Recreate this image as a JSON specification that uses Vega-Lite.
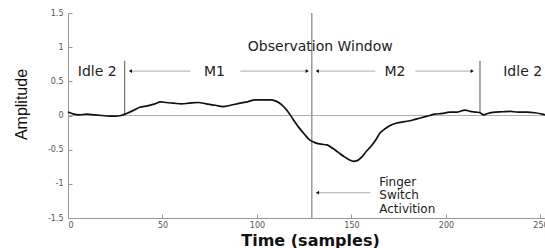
{
  "$schema": "https://vega.github.io/schema/vega-lite/v6.json",
  "width": 477,
  "height": 205,
  "autosize": "none",
  "padding": {"left": 68, "top": 13, "right": 0, "bottom": 30},
  "background": "white",
  "config": {
    "view": {"stroke": null},
    "axis": {
      "grid": false,
      "domainColor": "#999999",
      "tickColor": "#999999",
      "tickSize": -4,
      "labelFont": "DejaVu Sans",
      "labelFontSize": 8,
      "labelColor": "#555555",
      "titleColor": "#111111"
    }
  },
  "datasets": {
    "curve": [
      {"x": 0, "y": 0.05}, {"x": 3, "y": 0.02}, {"x": 6, "y": 0.01}, {"x": 10, "y": 0.02},
      {"x": 14, "y": 0.01}, {"x": 18, "y": 0.0}, {"x": 22, "y": -0.01}, {"x": 25, "y": -0.01},
      {"x": 28, "y": 0.0}, {"x": 31, "y": 0.03}, {"x": 35, "y": 0.08}, {"x": 38, "y": 0.12},
      {"x": 42, "y": 0.14}, {"x": 46, "y": 0.17}, {"x": 49, "y": 0.2}, {"x": 52, "y": 0.19},
      {"x": 56, "y": 0.18}, {"x": 60, "y": 0.17}, {"x": 64, "y": 0.18}, {"x": 69, "y": 0.19},
      {"x": 73, "y": 0.17}, {"x": 78, "y": 0.15}, {"x": 82, "y": 0.13}, {"x": 86, "y": 0.15},
      {"x": 91, "y": 0.18}, {"x": 95, "y": 0.2}, {"x": 99, "y": 0.23}, {"x": 103, "y": 0.23},
      {"x": 107, "y": 0.23}, {"x": 110, "y": 0.21}, {"x": 113, "y": 0.16}, {"x": 116, "y": 0.07},
      {"x": 119, "y": -0.05}, {"x": 122, "y": -0.17}, {"x": 125, "y": -0.27}, {"x": 128, "y": -0.36},
      {"x": 131, "y": -0.4}, {"x": 134, "y": -0.42}, {"x": 137, "y": -0.43}, {"x": 140, "y": -0.48},
      {"x": 143, "y": -0.54}, {"x": 146, "y": -0.6}, {"x": 149, "y": -0.65}, {"x": 151, "y": -0.67},
      {"x": 153, "y": -0.66}, {"x": 156, "y": -0.59}, {"x": 158, "y": -0.52}, {"x": 160, "y": -0.46},
      {"x": 163, "y": -0.35}, {"x": 165, "y": -0.26}, {"x": 168, "y": -0.19}, {"x": 171, "y": -0.14},
      {"x": 174, "y": -0.11}, {"x": 178, "y": -0.09}, {"x": 182, "y": -0.07}, {"x": 186, "y": -0.04},
      {"x": 190, "y": -0.01}, {"x": 194, "y": 0.02}, {"x": 198, "y": 0.03}, {"x": 202, "y": 0.05},
      {"x": 206, "y": 0.05}, {"x": 210, "y": 0.08}, {"x": 213, "y": 0.06}, {"x": 216, "y": 0.05},
      {"x": 218, "y": 0.04}, {"x": 220, "y": 0.01}, {"x": 222, "y": 0.03}, {"x": 226, "y": 0.05},
      {"x": 230, "y": 0.055}, {"x": 234, "y": 0.06}, {"x": 238, "y": 0.05}, {"x": 243, "y": 0.05},
      {"x": 247, "y": 0.04}, {"x": 251, "y": 0.02}, {"x": 252.4, "y": 0.01}
    ],
    "zero": [{"x": 0, "x2": 252.4, "y": 0}],
    "window": [{"x": 129, "y": -1.5, "y2": 1.5}],
    "bounds": [{"x": 30, "y": 0.8, "y2": 0.02}, {"x": 218, "y": 0.8, "y2": 0.04}],
    "shafts": [
      {"x": 33, "x2": 64.7, "y": 0.65},
      {"x": 91.2, "x2": 126.6, "y": 0.65},
      {"x": 131.9, "x2": 162.6, "y": 0.65},
      {"x": 183.8, "x2": 213.9, "y": 0.65},
      {"x": 132, "x2": 160, "y": -1.13}
    ],
    "heads": [
      {"x": 33, "y": 0.65, "dir": "left"},
      {"x": 126.6, "y": 0.65, "dir": "right"},
      {"x": 131.9, "y": 0.65, "dir": "left"},
      {"x": 213.9, "y": 0.65, "dir": "right"},
      {"x": 132, "y": -1.13, "dir": "left"}
    ],
    "ctext": [
      {"x": 15.5, "y": 0.64, "text": "Idle 2"},
      {"x": 77.5, "y": 0.64, "text": "M1"},
      {"x": 173, "y": 0.64, "text": "M2"},
      {"x": 133.5, "y": 1.0, "text": "Observation Window"}
    ],
    "rtext": [
      {"x": 230.3, "y": 0.64, "text": "Idle 2"}
    ],
    "ftext": [
      {"x": 164.7, "y": -0.97, "text": "Finger\nSwitch\nActivition"}
    ]
  },
  "encoding": {
    "x": {
      "field": "x", "type": "quantitative",
      "scale": {"domain": [0, 252.4], "nice": false, "zero": false},
      "axis": {
        "values": [0, 50, 100, 150, 200, 250],
        "labelPadding": 7,
        "title": "Time (samples)",
        "titleFont": "DejaVu Sans",
        "titleFontSize": 16,
        "titleFontWeight": "bold",
        "titleBaseline": "alphabetic",
        "titleX": 242,
        "titleY": 27,
        "titleAlign": "center"
      }
    },
    "y": {
      "field": "y", "type": "quantitative",
      "scale": {"domain": [-1.5, 1.5], "nice": false},
      "axis": {
        "values": [-1.5, -1, -0.5, 0, 0.5, 1, 1.5],
        "labelExpr": "'' + datum.value",
        "labelPadding": 9,
        "title": "Amplitude",
        "titleFont": "Liberation Sans",
        "titleFontSize": 16,
        "titleFontWeight": "normal",
        "titleBaseline": "alphabetic",
        "titleAngle": -90,
        "titleX": -42,
        "titleY": 91,
        "titleAlign": "center"
      }
    }
  },
  "layer": [
    {"data": {"name": "zero"}, "mark": {"type": "rule", "color": "#b0b0b0", "strokeWidth": 1}, "encoding": {"x2": {"field": "x2"}}},
    {"data": {"name": "window"}, "mark": {"type": "rule", "color": "#9a9a9a", "strokeWidth": 1.5}, "encoding": {"y2": {"field": "y2"}}},
    {"data": {"name": "bounds"}, "mark": {"type": "rule", "color": "#555555", "strokeWidth": 1}, "encoding": {"y2": {"field": "y2"}}},
    {"data": {"name": "shafts"}, "mark": {"type": "rule", "color": "#aaaaaa", "strokeWidth": 1}, "encoding": {"x2": {"field": "x2"}}},
    {"data": {"name": "heads"}, "mark": {"type": "point", "filled": true, "color": "#111111", "size": 14, "opacity": 1},
      "encoding": {"shape": {"field": "dir", "type": "nominal", "scale": {"domain": ["left", "right"], "range": ["triangle-left", "triangle-right"]}, "legend": null}}},
    {"data": {"name": "curve"}, "mark": {"type": "line", "color": "#111111", "strokeWidth": 1.7, "interpolate": "monotone"}, "encoding": {}},
    {"data": {"name": "ctext"}, "mark": {"type": "text", "font": "DejaVu Sans", "fontSize": 14, "color": "#222222", "align": "center", "baseline": "middle"}, "encoding": {"text": {"field": "text"}}},
    {"data": {"name": "rtext"}, "mark": {"type": "text", "font": "DejaVu Sans", "fontSize": 14, "color": "#222222", "align": "left", "baseline": "middle"}, "encoding": {"text": {"field": "text"}}},
    {"data": {"name": "ftext"}, "mark": {"type": "text", "font": "DejaVu Sans", "fontSize": 12, "lineBreak": "\n", "lineHeight": 13.5, "color": "#222222", "align": "left", "baseline": "middle"}, "encoding": {"text": {"field": "text"}}}
  ]
}
